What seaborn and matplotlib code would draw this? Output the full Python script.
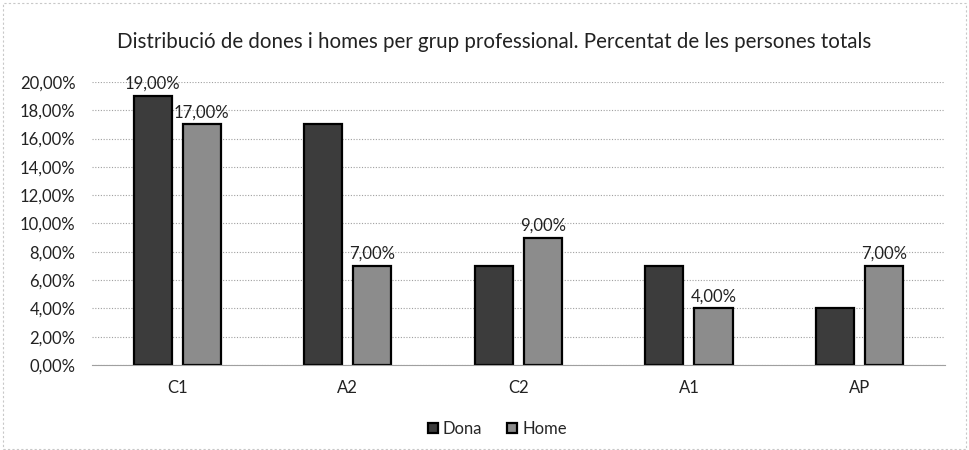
import matplotlib
matplotlib.use("Agg")
import matplotlib.pyplot as plt
import seaborn as sns
import pandas as pd
from matplotlib.patches import Rectangle

# data
groups = ["C1", "A2", "C2", "A1", "AP"]
dona = [19, 17, 7, 7, 4]
home = [17, 7, 9, 4, 7]
# which bars carry a value label
dona_lab = [True, False, False, False, False]
home_lab = [True, True, True, True, True]

df = pd.DataFrame({
    "grup": groups * 2,
    "valor": dona + home,
    "sexe": ["Dona"] * len(groups) + ["Home"] * len(groups),
})

sns.set_style("white")
plt.rcParams["font.family"] = ["Lato", "DejaVu Sans"]

fig = plt.figure(figsize=(9.69, 4.5), dpi=100)
ax = fig.add_axes([0.095, 0.189, 0.88, 0.629])

pal = {"Dona": "#3c3c3c", "Home": "#8c8c8c"}
sns.barplot(data=df, x="grup", y="valor", hue="sexe", palette=pal,
            width=0.576, edgecolor="black", linewidth=1.6, ax=ax, legend=True,
            saturation=1)

# shrink each bar to leave a gap between the pair
for p in ax.patches:
    w = p.get_width()
    nw = w * 0.776
    p.set_x(p.get_x() + (w - nw) / 2)
    p.set_width(nw)

# value labels
for cont, vals, flags in zip(ax.containers, [dona, home], [dona_lab, home_lab]):
    for bar, v, f in zip(cont, vals, flags):
        if f:
            ax.annotate(f"{v:.2f}%".replace(".", ","),
                        (bar.get_x() + bar.get_width() / 2, bar.get_height()),
                        xytext=(0, 3), textcoords="offset points",
                        ha="center", va="bottom", fontsize=12, color="#222222")

ax.set_ylim(0, 20)
ax.set_yticks(range(0, 21, 2))
ax.set_yticklabels([f"{t:.2f}%".replace(".", ",") for t in range(0, 21, 2)])
ax.set_xlim(-0.5, len(groups) - 0.5)
ax.yaxis.grid(True, linestyle=(0, (1, 1.5)), color="#a0a0a0", linewidth=0.8)
ax.set_axisbelow(True)
for s in ["top", "right", "left"]:
    ax.spines[s].set_visible(False)
ax.spines["bottom"].set_color("#a0a0a0")
ax.tick_params(axis="both", length=0, labelsize=12, colors="#222222")
ax.tick_params(axis="y", pad=12)
ax.tick_params(axis="x", pad=11)
ax.set_xlabel("")
ax.set_ylabel("")

ax.legend(loc="upper center", bbox_to_anchor=(0.475, -0.145), ncol=2, frameon=False,
          fontsize=12, handlelength=0.6, handleheight=0.6, handletextpad=0.3,
          columnspacing=1.5)

fig.suptitle("Distribució de dones i homes per grup professional. Percentat de les persones totals",
             x=0.51, y=0.93, fontsize=14.8, color="#222222")

# faint outer frame like the original chart area
fig.patches.append(Rectangle((0.003, 0.003), 0.994, 0.99, transform=fig.transFigure,
                             fill=False, edgecolor="#c8c8c8", linewidth=0.8,
                             linestyle=(0, (2, 2))))

fig.savefig("out.png", dpi=100)
